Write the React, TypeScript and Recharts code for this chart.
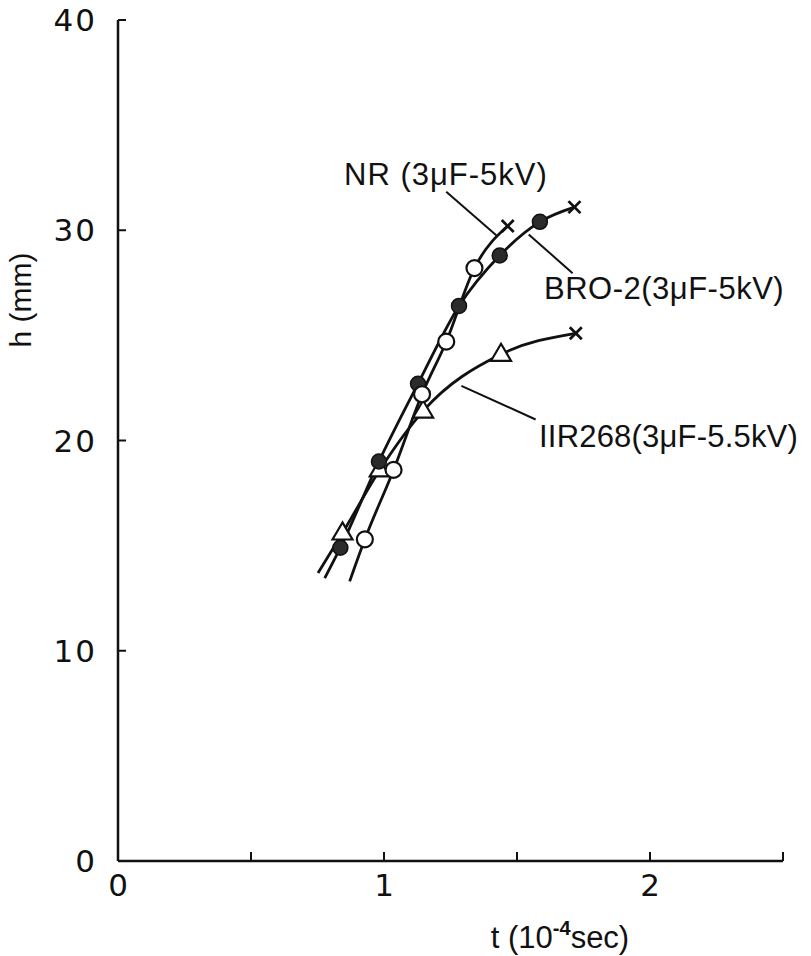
import { ComposedChart, Line, Scatter, XAxis, YAxis, ReferenceLine } from 'recharts';

// t in 1e-4 s, h in mm
const nrPoints = [
  { t: 0.928, h: 15.3 },
  { t: 1.036, h: 18.6 },
  { t: 1.143, h: 22.2 },
  { t: 1.234, h: 24.7 },
  { t: 1.34, h: 28.2 },
];
const nrStart = { t: 0.871, h: 13.3 };
const nrEnd = { t: 1.465, h: 30.2 };

const broPoints = [
  { t: 0.836, h: 14.9 },
  { t: 0.981, h: 19.0 },
  { t: 1.128, h: 22.7 },
  { t: 1.282, h: 26.4 },
  { t: 1.435, h: 28.8 },
  { t: 1.586, h: 30.4 },
];
const broStart = { t: 0.777, h: 13.45 };
const broEnd = { t: 1.716, h: 31.1 };

const iirPoints = [
  { t: 0.844, h: 15.6 },
  { t: 0.984, h: 18.6 },
  { t: 1.147, h: 21.4 },
  { t: 1.44, h: 24.1 },
];
const iirStart = { t: 0.752, h: 13.7 };
const iirEnd = { t: 1.721, h: 25.1 };

const xTicks = [0, 0.5, 1, 1.5, 2, 2.5];
const yTicks = [0, 10, 20, 30, 40];

const nrLine = [nrStart, ...nrPoints, nrEnd];
const broLine = [broStart, ...broPoints, broEnd];
const iirLine = [iirStart, ...iirPoints, iirEnd];
const endPoints = [nrEnd, broEnd, iirEnd];

// leader lines from labels to curves (data coords)
const leaders = [
  [{ x: 1.234, y: 31.83 }, { x: 1.422, y: 29.76 }],
  [{ x: 1.544, y: 29.8 }, { x: 1.709, y: 27.96 }],
  [{ x: 1.291, y: 22.6 }, { x: 1.57, y: 21.0 }],
];

const INK = '#111';
const FONT = '"Liberation Sans", Arial, sans-serif';
const NUMFONT = '"DejaVu Sans", sans-serif';

const OpenCircle = (p: any) => (
  <circle cx={p.cx} cy={p.cy} r={8} fill="#fff" stroke={INK} strokeWidth={2.2} />
);
const FilledCircle = (p: any) => (
  <circle cx={p.cx} cy={p.cy} r={7.5} fill="#2b2b2b" stroke={INK} strokeWidth={1.5} />
);
const Triangle = (p: any) => (
  <polygon
    points={`${p.cx},${p.cy - 10.5} ${p.cx - 10},${p.cy + 6.5} ${p.cx + 10},${p.cy + 6.5}`}
    fill="#fff"
    stroke={INK}
    strokeWidth={2.2}
  />
);
const Cross = (p: any) => (
  <g stroke={INK} strokeWidth={2.8}>
    <line x1={p.cx - 6} y1={p.cy - 6} x2={p.cx + 6} y2={p.cy + 6} />
    <line x1={p.cx - 6} y1={p.cy + 6} x2={p.cx + 6} y2={p.cy - 6} />
  </g>
);

const XTick = (props: any) => {
  const { x, y, payload } = props;
  const v = payload.value;
  return (
    <g>
      {v > 0 && <line x1={x} x2={x} y1={y} y2={y - 9} stroke={INK} strokeWidth={2} />}
      {Number.isInteger(v) && (
        <text x={x} y={y + 35} textAnchor="middle" fontFamily={NUMFONT} fontSize={31} fill={INK}>
          {v}
        </text>
      )}
    </g>
  );
};

const YTick = (props: any) => {
  const { x, y, payload } = props;
  const v = payload.value;
  return (
    <g>
      {v > 0 && <line x1={x} x2={x + 8} y1={y} y2={y} stroke={INK} strokeWidth={2} />}
      <text x={x - 21} y={y + 11} textAnchor="end" fontFamily={NUMFONT} fontSize={31} fill={INK} letterSpacing={2}>
        {v}
      </text>
    </g>
  );
};

export default function App() {
  return (
    <div style={{ position: 'relative', width: 811, height: 956, background: '#fff' }}>
      <style>{'body{margin:0;background:#fff}'}</style>
      <ComposedChart width={811} height={956} margin={{ top: 20, right: 28, left: 0, bottom: 0 }}>
        <XAxis
          type="number"
          dataKey="t"
          domain={[0, 2.5]}
          ticks={xTicks}
          height={95}
          tickSize={0}
          tickMargin={0}
          axisLine={{ stroke: INK, strokeWidth: 2.5 }}
          tick={<XTick />}
          interval={0}
        />
        <YAxis
          type="number"
          dataKey="h"
          domain={[0, 40]}
          ticks={yTicks}
          width={118}
          tickSize={0}
          tickMargin={0}
          axisLine={{ stroke: INK, strokeWidth: 2.5 }}
          tick={<YTick />}
          interval={0}
        />
        {leaders.map((seg, i) => (
          <ReferenceLine key={i} segment={seg} stroke={INK} strokeWidth={2} />
        ))}
        <Line data={nrLine} dataKey="h" type="monotone" stroke={INK} strokeWidth={2.8} dot={false} isAnimationActive={false} />
        <Line data={broLine} dataKey="h" type="monotone" stroke={INK} strokeWidth={2.8} dot={false} isAnimationActive={false} />
        <Line data={iirLine} dataKey="h" type="monotone" stroke={INK} strokeWidth={2.8} dot={false} isAnimationActive={false} />
        <Scatter data={iirPoints} dataKey="h" shape={Triangle} isAnimationActive={false} />
        <Scatter data={broPoints} dataKey="h" shape={FilledCircle} isAnimationActive={false} />
        <Scatter data={nrPoints} dataKey="h" shape={OpenCircle} isAnimationActive={false} />
        <Scatter data={endPoints} dataKey="h" shape={Cross} isAnimationActive={false} />
      </ComposedChart>
      <svg
        width={811}
        height={956}
        style={{ position: 'absolute', left: 0, top: 0, pointerEvents: 'none' }}
      >
        <g fontFamily={FONT} fontSize={31} fill={INK}>
          <text x={344} y={185} letterSpacing={1}>NR (3μF-5kV)</text>
          <text x={544} y={299} letterSpacing={0.5}>BRO-2(3μF-5kV)</text>
          <text x={539} y={447} letterSpacing={0.2}>IIR268(3μF-5.5kV)</text>
          <text x={560} y={948} textAnchor="middle" fontSize={31}>
            t (10<tspan dy={-13} fontSize={20} fontWeight="bold">-4</tspan>
            <tspan dy={13}>sec)</tspan>
          </text>
          <text transform="translate(31,300) rotate(-90)" textAnchor="middle" fontSize={30}>
            h (mm)
          </text>
        </g>
      </svg>
    </div>
  );
}
